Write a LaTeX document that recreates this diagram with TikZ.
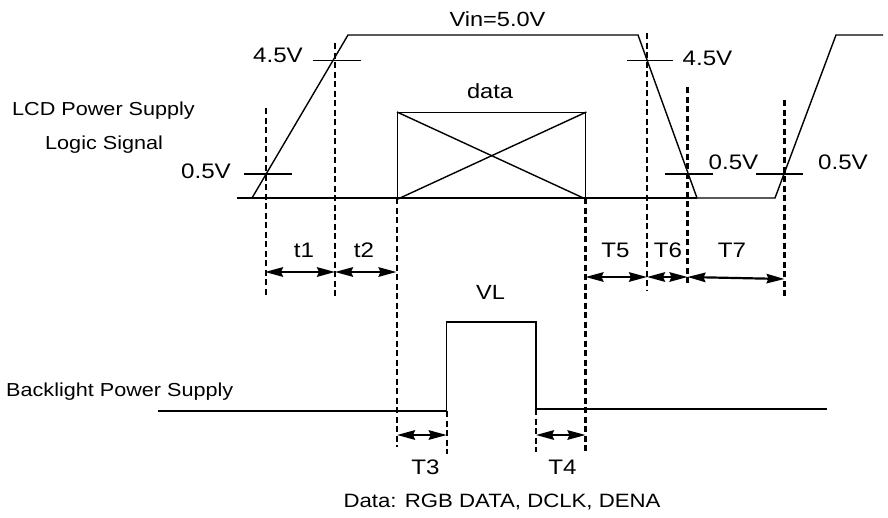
\documentclass[tikz,border=0pt]{standalone}
\usepackage{fontspec}
\setmainfont{Liberation Sans}[FakeStretch=1.15]
\usetikzlibrary{arrows.meta}
\tikzset{
  wave/.style={line width=1.4pt, line join=miter},
  guide/.style={line width=2.3pt, dash pattern=on 6pt off 3.5pt},
  dimarrow/.style={line width=2.2pt, {Stealth[length=18pt,width=9.5pt,inset=2pt]}-{Stealth[length=18pt,width=9.5pt,inset=2pt]}},
  lbl/.style={inner sep=0pt, anchor=base, font=\fontsize{21}{25}\selectfont},
  mlbl/.style={inner sep=0pt, anchor=base, font=\fontsize{20.5}{24}\selectfont},
  sidelbl/.style={inner sep=0pt, anchor=base west, font=\fontsize{18.8}{22}\selectfont},
}
\begin{document}
\begin{tikzpicture}[x=1pt,y=-1pt]
\useasboundingbox (0,0) rectangle (888,517);
\fill[white] (0,0) rectangle (888,517);

% LCD power supply waveform
\draw[wave] (237,198) -- (252,198) -- (348,35) -- (638,35) -- (697,198) -- (775,198) -- (836,35) -- (883,35);
\draw[wave] (237,198) -- (697,198);

% data box
\node[draw, line width=1.4pt, minimum width=188pt, minimum height=86pt, inner sep=0pt, anchor=north west] (box) at (397,112) {};
\draw[wave] (box.north west) -- (box.south east);
\draw[wave] (box.south west) -- (box.north east);

% threshold ticks
\draw[wave] (313,60.7) -- (361,60.7);
\draw[wave] (244,174) -- (292,174);
\draw[wave] (627,60.7) -- (673,60.7);
\draw[wave] (665,174) -- (713,174);
\draw[wave] (756,174) -- (803,174);

% backlight waveform
\draw[wave] (158,411) -- (446.7,411) -- (446.7,322) -- (536,322) -- (536,409) -- (827,409);

% guide coordinates
\coordinate (g1t) at (266,108);   \coordinate (g1b) at (266,295);
\coordinate (g2t) at (335,43);    \coordinate (g2b) at (335,298);
\coordinate (g3t) at (397,198);   \coordinate (g3b) at (397,447);
\coordinate (g4t) at (585.5,198); \coordinate (g4b) at (585.5,454);
\coordinate (g5t) at (647,33);    \coordinate (g5b) at (647,291);
\coordinate (g6t) at (687.5,87);  \coordinate (g6b) at (687.5,286);
\coordinate (g7t) at (784.5,100); \coordinate (g7b) at (784.5,299);
\coordinate (g8t) at (446.7,411); \coordinate (g8b) at (446.7,454);
\coordinate (g9t) at (536,409);   \coordinate (g9b) at (536,452);

\foreach \g in {1,...,9} \draw[guide] (g\g t) -- (g\g b);

% dimension arrow end points
\coordinate (a1) at (265,272);
\coordinate (a2) at (335,272);
\coordinate (a3) at (396.5,272);
\coordinate (a5) at (585.5,277);
\coordinate (a6) at (647,277);
\coordinate (a7) at (687.5,277);
\coordinate (a8) at (784.5,279);
\coordinate (b3) at (397,435);
\coordinate (b4) at (446.7,435);
\coordinate (b5) at (536,435);
\coordinate (b6) at (585.5,435);

\draw[dimarrow] (a1) -- (a2);
\draw[dimarrow] (a2) -- (a3);
\draw[dimarrow] (a5) -- (a6);
\draw[dimarrow] (a6) -- (a7);
\draw[dimarrow] (a7) -- (a8);
\draw[dimarrow] (b3) -- (b4);
\draw[dimarrow] (b5) -- (b6);

% labels
\node[mlbl] (vin) at (497.5,26) {Vin=5.0V};
\node[mlbl] (data) at (490,98.3) {data};
\node[lbl] (v45a) at (278,62.7) {4.5V};
\node[lbl] (v45b) at (707.5,65.7) {4.5V};
\node[lbl] (v05a) at (206,178.3) {0.5V};
\node[lbl] (v05b) at (733.5,169) {0.5V};
\node[lbl] (v05c) at (843,169) {0.5V};
\node[sidelbl] (lcd) at (12,115.7) {LCD Power Supply};
\node[sidelbl] (logic) at (45,149) {Logic Signal};
\node[sidelbl] (bl) at (6,396) {Backlight Power Supply};
\node[lbl] (t1) at (304,257.3) {t1};
\node[lbl] (t2) at (364,257.3) {t2};
\node[lbl] (T5) at (615.5,257.3) {T5};
\node[lbl] (T6) at (668,257.3) {T6};
\node[lbl] (T7) at (732,257.3) {T7};
\node[mlbl] (VL) at (490.5,299) {VL};
\node[lbl] (T3) at (425.5,474) {T3};
\node[lbl] (T4) at (562.5,474) {T4};
\node[inner sep=0pt, anchor=base, font=\fontsize{19.3}{23}\selectfont] (foot) at (502,507.3) {Data: RGB DATA, DCLK, DENA};
\end{tikzpicture}
\end{document}
